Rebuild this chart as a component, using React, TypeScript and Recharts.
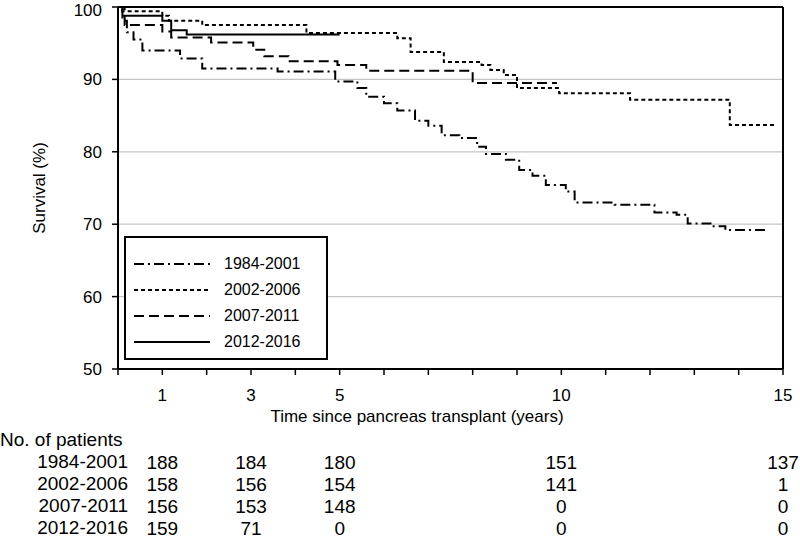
import { LineChart, Line, XAxis, YAxis, CartesianGrid, ReferenceLine } from 'recharts';

// Kaplan-Meier steps: time (years) and survival (%)
const t1984 = [0, 0.1, 0.2, 0.35, 0.55, 1.4, 1.9, 3.6, 4.9, 5.4, 5.6, 6.0, 6.3, 6.7, 7.0, 7.3, 7.7, 8.1, 8.3, 8.75, 9.05, 9.35, 9.65, 10.1, 10.3, 11.2, 12.1, 12.6, 12.85, 13.4, 13.7, 14.6];
const s1984 = [100, 98.1, 96.5, 95.5, 94.0, 92.9, 91.5, 91.1, 89.7, 88.8, 87.6, 86.7, 85.7, 84.3, 83.6, 82.3, 81.9, 80.7, 79.7, 78.9, 77.5, 76.7, 75.4, 74.5, 73.0, 72.7, 71.6, 71.3, 70.1, 69.7, 69.2, 68.8];

const t2002 = [0, 0.1, 1.0, 1.15, 1.9, 4.25, 6.3, 6.6, 7.35, 8.2, 8.4, 8.7, 9.0, 9.95, 11.55, 13.8, 14.85];
const s2002 = [100, 99.4, 98.8, 98.1, 97.5, 96.4, 95.7, 93.8, 92.4, 92.0, 91.3, 90.6, 88.8, 88.1, 87.2, 83.7, 83.7];

const t2007 = [0, 0.15, 1.0, 1.2, 2.1, 3.05, 3.3, 3.85, 4.95, 5.6, 8.0, 9.9];
const s2007 = [100, 97.5, 96.6, 95.8, 95.1, 94.1, 93.2, 92.5, 92.0, 91.2, 89.5, 89.5];

const t2012 = [0, 0.1, 1.0, 1.2, 1.55, 5.0];
const s2012 = [100, 98.8, 98.1, 96.8, 96.2, 96.2];

const periods = ['1984-2001', '2002-2006', '2007-2011', '2012-2016'];
const dashes = ['10 4 2 4', '4 3', '10 5', ''];

const riskTimes = [1, 3, 5, 10, 15];
const risk1984 = [188, 184, 180, 151, 137];
const risk2002 = [158, 156, 154, 141, 1];
const risk2007 = [156, 153, 148, 0, 0];
const risk2012 = [159, 71, 0, 0, 0];
const riskRows = [risk1984, risk2002, risk2007, risk2012];

const xTicks = [0, 1, 2, 3, 4, 5, 6, 7, 8, 9, 10, 11, 12, 13, 14, 15];
const yTicks = [50, 60, 70, 80, 90, 100];

const toPoints = (t: number[], s: number[]) => t.map((x, i) => ({ t: x, s: s[i] }));
const series = [toPoints(t1984, s1984), toPoints(t2002, s2002), toPoints(t2007, s2007), toPoints(t2012, s2012)];

const FONT = "Arial, 'Liberation Sans', sans-serif";
const rowY = [462, 484, 506, 528];

function TimeTick(props: any) {
  const { x, payload } = props;
  const i = riskTimes.indexOf(payload.value);
  if (i < 0) return <g />;
  return (
    <g fontFamily={FONT}>
      <text x={x} y={395} textAnchor="middle" dominantBaseline="central" fontSize={17} fill="#000">
        {payload.value}
      </text>
      {riskRows.map((row, r) => (
        <text key={r} x={x} y={rowY[r]} textAnchor="middle" dominantBaseline="central" fontSize={19} fill="#000">
          {row[i]}
        </text>
      ))}
    </g>
  );
}

export default function App() {
  return (
    <div style={{ position: 'absolute', left: 0, top: 0, width: 800, height: 541, background: '#fff', fontFamily: FONT }}>
      <LineChart width={800} height={541} margin={{ top: 7, right: 17, left: 0, bottom: 142 }}>
        <CartesianGrid vertical={false} stroke="#c4c4c4" strokeWidth={1.2} />
        <XAxis
          dataKey="t"
          type="number"
          domain={[0, 15]}
          ticks={xTicks}
          interval={0}
          height={30}
          axisLine={{ stroke: '#000', strokeWidth: 2 }}
          tickLine={{ stroke: '#000', strokeWidth: 1.5 }}
          tickSize={6}
          tick={<TimeTick />}
        />
        <YAxis
          type="number"
          domain={[50, 100]}
          ticks={yTicks}
          width={118}
          axisLine={{ stroke: '#000', strokeWidth: 2 }}
          tickLine={{ stroke: '#000', strokeWidth: 1.5 }}
          tickSize={6}
          tickMargin={10}
          tick={{ fill: '#000', fontSize: 17 }}
        />
        <ReferenceLine y={100} stroke="#000" strokeWidth={2} />
        <ReferenceLine x={15} stroke="#000" strokeWidth={2} />
        {series.map((d, i) => (
          <Line
            key={periods[i]}
            data={d}
            dataKey="s"
            type="stepAfter"
            stroke="#000"
            strokeWidth={2}
            strokeDasharray={dashes[i] || undefined}
            dot={false}
            activeDot={false}
            isAnimationActive={false}
          />
        ))}
      </LineChart>

      <div
        style={{
          position: 'absolute', left: 40, top: 188, transform: 'translate(-50%, -50%) rotate(-90deg)',
          fontSize: 17, whiteSpace: 'nowrap', color: '#000',
        }}
      >
        Survival (%)
      </div>
      <div style={{ position: 'absolute', left: 417, top: 417, transform: 'translate(-50%, -50%)', fontSize: 17, whiteSpace: 'nowrap' }}>
        Time since pancreas transplant (years)
      </div>

      <div
        style={{
          position: 'absolute', left: 124, top: 236, width: 204, height: 124, boxSizing: 'border-box',
          border: '2px solid #000', background: '#fff',
        }}
      >
        {periods.map((p, i) => (
          <div key={p} style={{ position: 'absolute', left: 8, top: 13 + i * 26, height: 26, display: 'flex', alignItems: 'center' }}>
            <svg width={76} height={4}>
              <line x1={0} y1={2} x2={76} y2={2} stroke="#000" strokeWidth={2} strokeDasharray={dashes[i] || undefined} />
            </svg>
            <span style={{ marginLeft: 14, fontSize: 16 }}>{p}</span>
          </div>
        ))}
      </div>

      <div style={{ position: 'absolute', left: 0, top: 440, transform: 'translateY(-50%)', fontSize: 19, whiteSpace: 'nowrap' }}>
        No. of patients
      </div>
      {periods.map((p, i) => (
        <div
          key={p}
          style={{ position: 'absolute', right: 800 - 128, top: rowY[i], transform: 'translateY(-50%)', fontSize: 19, whiteSpace: 'nowrap' }}
        >
          {p}
        </div>
      ))}
    </div>
  );
}
